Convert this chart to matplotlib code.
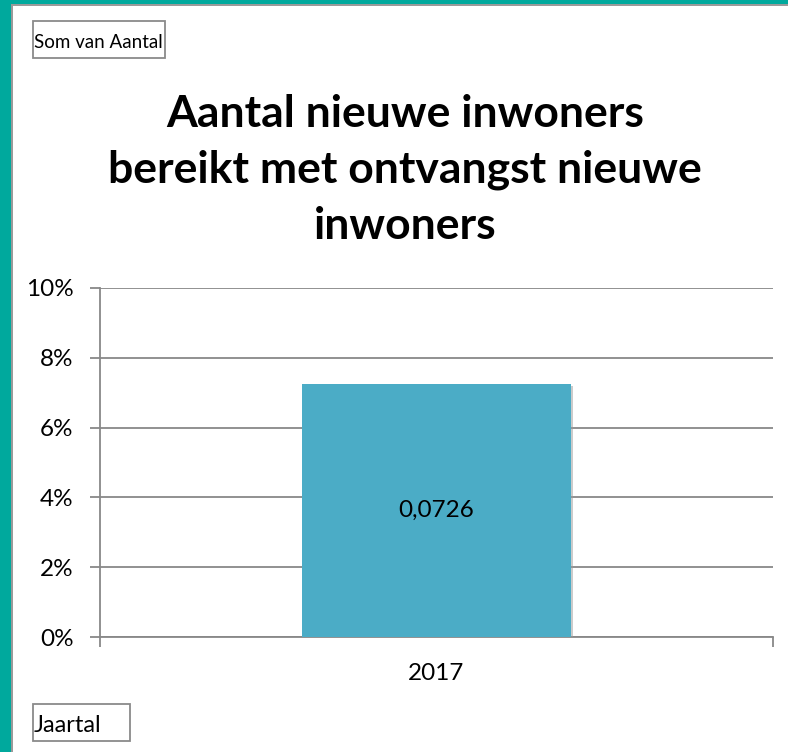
import matplotlib
matplotlib.use("Agg")
import matplotlib.pyplot as plt
from matplotlib.patches import Rectangle
from matplotlib.ticker import FuncFormatter
import matplotlib.patheffects as pe

categories = ["2017"]
values = [0.0726]
value_labels = ["0,0726"]
title = "Aantal nieuwe inwoners\nbereikt met ontvangst nieuwe\ninwoners"

plt.rcParams['font.family'] = ['Lato', 'DejaVu Sans']

W, H = 788, 752
fig = plt.figure(figsize=(W/100, H/100), dpi=100)
fig.patch.set_facecolor('white')

teal = '#00A99D'
edge = '#9a9a9a'
# border bands
fig.add_artist(Rectangle((0, 0), 11/W, 1, transform=fig.transFigure, color=teal, lw=0, zorder=0))
fig.add_artist(Rectangle((11/W, 0), 2/W, 1 - 4/H, transform=fig.transFigure, color=edge, lw=0, zorder=0))
fig.add_artist(Rectangle((0, 1 - 4/H), 1, 4/H, transform=fig.transFigure, color=teal, lw=0, zorder=0))
fig.add_artist(Rectangle((11/W, 1 - 6/H), 1, 2/H, transform=fig.transFigure, color=edge, lw=0, zorder=0))

ax = fig.add_axes([100/W, 1 - 637/H, (773 - 100)/W, (637 - 288)/H])
x = list(range(len(categories)))
bars = ax.bar(x, values, width=0.4, color='#4BACC6', zorder=3,
              path_effects=[pe.SimplePatchShadow(offset=(1.5, -1.5), shadow_rgbFace='#999999', alpha=0.5), pe.Normal()])
ax.set_xlim(-0.5, len(categories) - 0.5)
ax.set_ylim(0, 0.10)
ax.set_yticks([0, 0.02, 0.04, 0.06, 0.08, 0.10])
ax.yaxis.set_major_formatter(FuncFormatter(lambda v, p: f"{v*100:.0f}%"))
ax.set_xticks(x)
ax.set_xticklabels(categories)
ax.set_xticks([i - 0.5 for i in range(len(categories) + 1)], minor=True)

gray = '#888888'
ax.grid(axis='y', color=gray, lw=1.3, zorder=0)
for s in ['top', 'right']:
    ax.spines[s].set_visible(False)
for s in ['left', 'bottom']:
    ax.spines[s].set_color(gray)
    ax.spines[s].set_linewidth(1.3)
ax.tick_params(axis='y', length=7, width=1.3, color=gray, pad=12, labelsize=17.5, labelcolor='black')
ax.tick_params(axis='x', which='major', length=0, pad=19, labelsize=17.5, labelcolor='black')
ax.tick_params(axis='x', which='minor', length=7, width=1.3, color=gray)

for b, lab in zip(bars, value_labels):
    ax.text(b.get_x() + b.get_width()/2, b.get_height()/2, lab, ha='center', va='center',
            fontsize=17.5, color='black', zorder=4)

fig.text(405/W, 1 - 170/H, title, ha='center', va='center', fontsize=32, fontweight='bold',
         linespacing=1.48, color='black')

# field buttons
fig.add_artist(Rectangle((33/W, 1 - 58/H), (165 - 33)/W, (58 - 21)/H, transform=fig.transFigure,
                         fc='white', ec='#8a8a8a', lw=1.3, zorder=2))
fig.text(34/W, 1 - 43/H, "Som van Aantal", ha='left', va='center', fontsize=13.5, zorder=3)
fig.add_artist(Rectangle((33/W, 1 - 741/H), (130 - 33)/W, (741 - 704)/H, transform=fig.transFigure,
                         fc='white', ec='#8a8a8a', lw=1.3, zorder=2))
fig.text(34/W, 1 - 725/H, "Jaartal", ha='left', va='center', fontsize=17, zorder=3)

fig.savefig('out.png', dpi=100)
